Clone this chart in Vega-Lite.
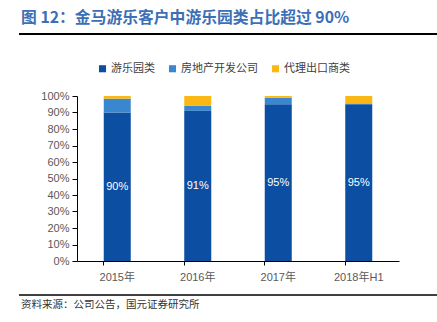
{
  "$schema": "https://vega.github.io/schema/vega-lite/v6.json",
  "padding": {"left": 18, "top": 10, "right": 0, "bottom": 0},
  "spacing": 12,
  "background": "white",
  "config": {"view": {"stroke": null}},
  "resolve": {"legend": {"color": "independent"}},
  "vconcat": [
    {
      "width": 361,
      "height": 1,
      "title": {
        "text": "图 12：金马游乐客户中游乐园类占比超过 90%",
        "anchor": "start",
        "frame": "group",
        "font": "Noto Sans CJK SC",
        "fontSize": 15.8,
        "fontWeight": "bold",
        "color": "#3c6fb5",
        "offset": 6,
        "dx": -56
      },
      "data": {"values": [{"a": 0, "b": 1, "y": 0}]},
      "mark": {"type": "rule", "color": "#000000", "strokeWidth": 2},
      "encoding": {
        "x": {"field": "a", "type": "quantitative", "scale": {"domain": [0.1384, 1], "zero": false}, "axis": null},
        "x2": {"field": "b"},
        "y": {"field": "y", "type": "quantitative", "scale": {"domain": [0, 1]}, "axis": null}
      }
    },
    {
      "width": 322,
      "height": 165,
      "data": {
        "values": [
          {"year": "2015年", "cat": "游乐园类", "value": 0.90, "o": 1},
          {"year": "2015年", "cat": "房地产开发公司", "value": 0.084, "o": 2},
          {"year": "2015年", "cat": "代理出口商类", "value": 0.016, "o": 3},
          {"year": "2016年", "cat": "游乐园类", "value": 0.91, "o": 1},
          {"year": "2016年", "cat": "房地产开发公司", "value": 0.03, "o": 2},
          {"year": "2016年", "cat": "代理出口商类", "value": 0.06, "o": 3},
          {"year": "2017年", "cat": "游乐园类", "value": 0.95, "o": 1},
          {"year": "2017年", "cat": "房地产开发公司", "value": 0.04, "o": 2},
          {"year": "2017年", "cat": "代理出口商类", "value": 0.01, "o": 3},
          {"year": "2018年H1", "cat": "游乐园类", "value": 0.95, "o": 1},
          {"year": "2018年H1", "cat": "房地产开发公司", "value": 0.005, "o": 2},
          {"year": "2018年H1", "cat": "代理出口商类", "value": 0.045, "o": 3}
        ]
      },
      "layer": [
        {
          "mark": {"type": "bar", "width": 27},
          "encoding": {
            "x": {
              "field": "year", "type": "nominal", "sort": null,
              "scale": {"paddingInner": 0.66, "paddingOuter": 0.33},
              "axis": {
                "title": null, "labelAngle": 0, "labelFont": "Liberation Sans, Noto Sans CJK SC",
                "labelFontSize": 11, "labelColor": "#595959", "domainColor": "#000000",
                "tickColor": "#000000", "tickSize": 4, "bandPosition": 0, "labelPadding": 6
              }
            },
            "y": {
              "field": "value", "type": "quantitative", "stack": "zero",
              "scale": {"domain": [0, 1]},
              "axis": {
                "title": "\u00a0", "titleFontSize": 4, "titlePadding": 17,
                "format": ".0%", "tickCount": 10, "grid": false,
                "labelFont": "Liberation Sans", "labelFontSize": 11, "labelColor": "#595959",
                "domainColor": "#000000", "tickColor": "#000000", "tickSize": 5, "labelPadding": 3
              }
            },
            "color": {
              "field": "cat", "type": "nominal",
              "scale": {
                "domain": ["游乐园类", "房地产开发公司", "代理出口商类"],
                "range": ["#0b4ea2", "#3a87d0", "#fbb814"]
              },
              "legend": {
                "title": null, "orient": "none", "direction": "horizontal",
                "legendX": 4, "legendY": -49, "padding": 16,
                "symbolType": "square", "symbolSize": 50, "symbolStrokeWidth": 0,
                "labelFont": "Noto Sans CJK SC", "labelFontSize": 11, "labelColor": "#404040",
                "columnPadding": 12, "labelOffset": 3
              }
            },
            "order": {"field": "o", "type": "quantitative"}
          }
        },
        {
          "transform": [{"filter": "datum.o == 1"}, {"calculate": "datum.value / 2", "as": "mid"}],
          "mark": {"type": "text", "color": "#ffffff", "font": "Liberation Sans", "fontSize": 11},
          "encoding": {
            "x": {"field": "year", "type": "nominal", "sort": null},
            "y": {"field": "mid", "type": "quantitative"},
            "text": {"field": "value", "type": "quantitative", "format": ".0%"}
          }
        }
      ]
    },
    {
      "width": 361,
      "height": 1,
      "title": {
        "text": "资料来源：公司公告，国元证券研究所",
        "orient": "bottom",
        "anchor": "start",
        "frame": "group",
        "font": "Noto Sans CJK SC",
        "fontSize": 10.5,
        "fontWeight": "normal",
        "color": "#333333",
        "offset": 4,
        "dx": -56
      },
      "data": {"values": [{"a": 0, "b": 1, "y": 1}]},
      "mark": {"type": "rule", "color": "#000000", "strokeWidth": 1.5},
      "encoding": {
        "x": {"field": "a", "type": "quantitative", "scale": {"domain": [0.1384, 1], "zero": false}, "axis": null},
        "x2": {"field": "b"},
        "y": {"field": "y", "type": "quantitative", "scale": {"domain": [0, 1]}, "axis": null}
      }
    }
  ]
}
